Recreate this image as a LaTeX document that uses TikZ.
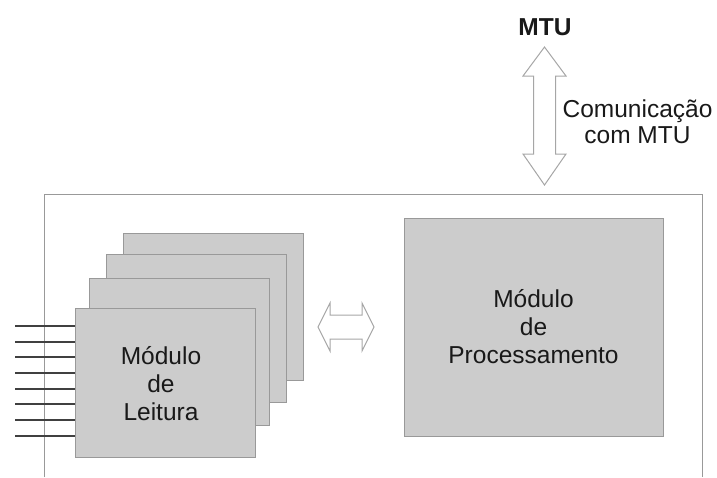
\documentclass[tikz,border=0pt]{standalone}
\usepackage{fontspec}
\setmainfont{Liberation Sans}
\begin{document}
\begin{tikzpicture}[x=1pt,y=-1pt,
  frame/.style={draw=black!40, line width=1pt},
  modbox/.style={draw=black!40, fill=black!20, line width=1pt, anchor=north west, inner sep=0pt, outer sep=0pt},
  inwire/.style={draw=black!75, line width=1.2pt},
  blockarrow/.style={draw=black!35, fill=white, line width=1pt, line join=miter},
  lbl/.style={font=\fontsize{24.5}{28}\selectfont, text=black!90, align=center, inner sep=0pt}]
\useasboundingbox (0,0) rectangle (717,477);
% outer frame (open at bottom)
\draw[frame] (44,477) -- (44,194) -- (702,194) -- (702,477);
% stacked reading modules
\node[modbox, minimum width=180pt, minimum height=147pt] (m4) at (123,233) {};
\node[modbox, minimum width=180pt, minimum height=148pt] (m3) at (106,254) {};
\node[modbox, minimum width=180pt, minimum height=147pt] (m2) at (89,278) {};
\node[modbox, minimum width=180pt, minimum height=149pt] (m1) at (75,308) {};
\node[lbl] (lt) at (161,384) {Módulo\\de\\Leitura};
% processing module
\node[modbox, minimum width=259pt, minimum height=218pt] (pm) at (404,218) {};
\node[lbl] (pt) at (533.5,327) {Módulo\\de\\Processamento};
% input wires
\foreach \i/\y in {1/326,2/342,3/357,4/373,5/389,6/404,7/420,8/436}{
  \coordinate (in\i) at (15,\y);
  \draw[inwire] (in\i) -- (in\i -| m1.west);
}
% horizontal double block arrow
\draw[blockarrow] (318,327) -- (330,303) -- (330,315) -- (362,315) -- (362,303) -- (374,327)
  -- (362,351) -- (362,339) -- (330,339) -- (330,351) -- cycle;
% vertical double block arrow
\draw[blockarrow] (544.5,47) -- (566,76) -- (555.5,76) -- (555.5,154) -- (566,154) -- (544.5,185)
  -- (523,154) -- (533.5,154) -- (533.5,76) -- (523,76) -- cycle;
% texts
\node[lbl, font=\fontsize{24.5}{28}\selectfont\bfseries] (mtu) at (545,27) {MTU};
\node[lbl, font=\fontsize{24.5}{25.5}\selectfont] (com) at (637.5,121.5) {Comunicação\\com MTU};
\end{tikzpicture}
\end{document}
